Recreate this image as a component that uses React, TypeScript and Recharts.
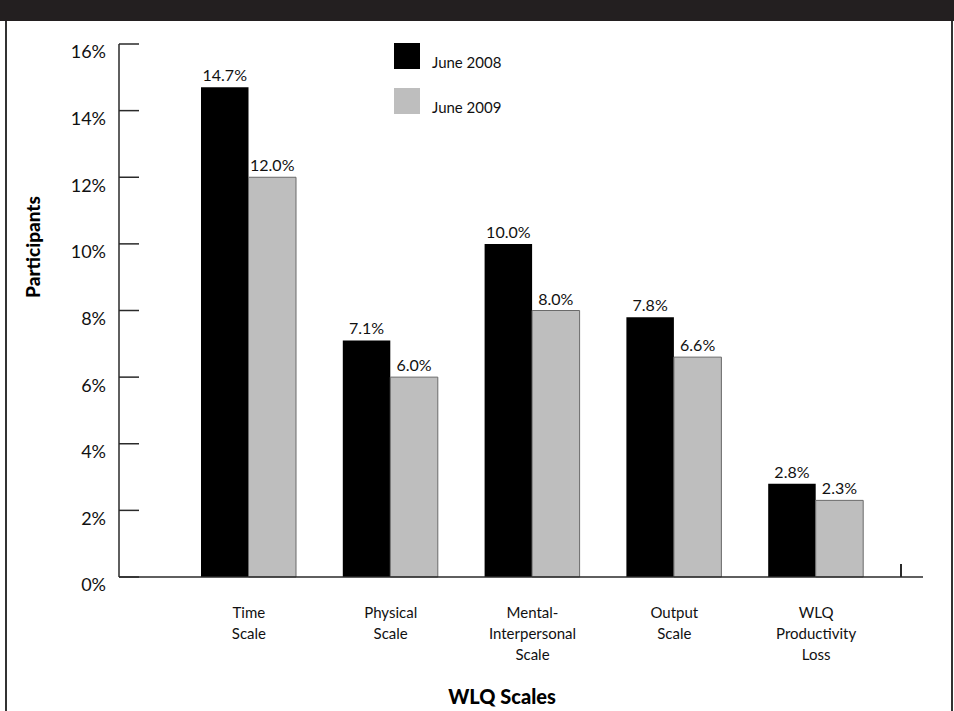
import { Bar, BarChart, LabelList, XAxis, YAxis } from "recharts";

const categories = [
  "Time\nScale",
  "Physical\nScale",
  "Mental-\nInterpersonal\nScale",
  "Output\nScale",
  "WLQ\nProductivity\nLoss",
];
const june2008 = [14.7, 7.1, 10.0, 7.8, 2.8];
const june2009 = [12.0, 6.0, 8.0, 6.6, 2.3];
const yTicks = [0, 2, 4, 6, 8, 10, 12, 14, 16];

const data = categories.map((name, i) => ({
  name,
  june2008: june2008[i],
  june2009: june2009[i],
}));

const FONT = "Lato, 'Open Sans', sans-serif";
const AXIS_COLOR = "#2a2a2a";
const DARK = "#000000";
const LIGHT = "#bebebe";

type TickProps = { x: number; y: number; payload: { value: string | number } };

// y ticks point into the plot, labels sit a little below their tick
function YTick({ x, y, payload }: TickProps) {
  return (
    <g>
      <line x1={x} y1={y} x2={x + 20} y2={y} stroke={AXIS_COLOR} strokeWidth={1.5} />
      <text
        x={x - 13}
        y={y + 8}
        dy="0.36em"
        textAnchor="end"
        fontSize={18}
        fontFamily={FONT}
        fill="#111"
      >
        {`${payload.value}%`}
      </text>
    </g>
  );
}

function XTick({ x, y, payload }: TickProps) {
  const lines = String(payload.value).split("\n");
  return (
    <text x={x} y={y + 33} textAnchor="middle" fontSize={15} fontFamily={FONT} fill="#111">
      {lines.map((line, i) => (
        <tspan key={i} x={x} dy={i === 0 ? 0 : 21}>
          {line}
        </tspan>
      ))}
    </text>
  );
}

const legendItems = [
  { label: "June 2008", color: DARK },
  { label: "June 2009", color: LIGHT },
];

function LegendBox() {
  return (
    <div
      style={{
        position: "absolute",
        left: 394,
        top: 43,
        fontFamily: FONT,
        fontSize: 15,
        color: "#111",
      }}
    >
      {legendItems.map((it) => (
        <div key={it.label} style={{ display: "flex", alignItems: "flex-start", height: 45 }}>
          <div style={{ width: 26, height: 26, background: it.color }} />
          <div style={{ marginLeft: 12, marginTop: 10 }}>{it.label}</div>
        </div>
      ))}
    </div>
  );
}

export default function App() {
  return (
    <div
      style={{
        position: "fixed",
        left: 0,
        top: 0,
        width: 954,
        height: 711,
        background: "#fff",
        overflow: "hidden",
      }}
    >
      <div style={{ position: "absolute", left: 0, top: 0, width: 954, height: 21, background: "#231f20" }} />
      <div style={{ position: "absolute", left: 5, top: 21, width: 1.5, height: 690, background: "#333" }} />
      <div style={{ position: "absolute", left: 951, top: 21, width: 1.5, height: 690, background: "#333" }} />

      <BarChart
        width={954}
        height={711}
        data={data}
        margin={{ top: 44, right: 31, left: 59, bottom: 104 }}
        barGap={0}
        barSize={47.5}
      >
        <XAxis
          dataKey="name"
          interval={0}
          padding={{ left: 59, right: 36 }}
          axisLine={{ stroke: AXIS_COLOR, strokeWidth: 1.5 }}
          tickLine={false}
          tick={XTick}
          height={30}
        />
        <YAxis
          domain={[0, 16]}
          ticks={yTicks}
          interval={0}
          axisLine={{ stroke: AXIS_COLOR, strokeWidth: 1.5 }}
          tickLine={false}
          tickSize={0}
          tickMargin={0}
          tick={YTick}
          width={60}
        />
        <Bar dataKey="june2008" name="June 2008" fill={DARK} isAnimationActive={false}>
          <LabelList
            dataKey="june2008"
            position="top"
            offset={6}
            formatter={(v: number) => `${v.toFixed(1)}%`}
            style={{ fontSize: 16, fontFamily: FONT, fill: "#111" }}
          />
        </Bar>
        <Bar
          dataKey="june2009"
          name="June 2009"
          fill={LIGHT}
          stroke="#6a6a6a"
          strokeWidth={1}
          isAnimationActive={false}
        >
          <LabelList
            dataKey="june2009"
            position="top"
            offset={6}
            formatter={(v: number) => `${v.toFixed(1)}%`}
            style={{ fontSize: 16, fontFamily: FONT, fill: "#111" }}
          />
        </Bar>
      </BarChart>

      <LegendBox />
      <div style={{ position: "absolute", left: 900, top: 564, width: 1.5, height: 13, background: AXIS_COLOR }} />
      <div
        style={{
          position: "absolute",
          left: 32,
          top: 247,
          transform: "translate(-50%, -50%) rotate(-90deg)",
          fontFamily: FONT,
          fontWeight: 900,
          fontSize: 19,
          color: "#000",
          whiteSpace: "nowrap",
        }}
      >
        Participants
      </div>
      <div
        style={{
          position: "absolute",
          left: 502,
          top: 696,
          transform: "translate(-50%, -50%)",
          fontFamily: FONT,
          fontWeight: 900,
          fontSize: 20,
          color: "#000",
          whiteSpace: "nowrap",
        }}
      >
        WLQ Scales
      </div>
    </div>
  );
}
